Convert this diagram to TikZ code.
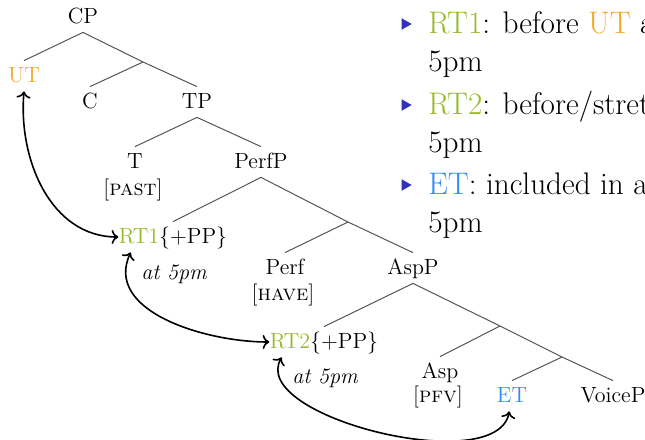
\documentclass[tikz,border=0pt]{standalone}
\usepackage{fontspec}
\usepackage{tikz}
\usetikzlibrary{shapes.geometric, arrows.meta}
\definecolor{utorange}{RGB}{245,168,38}
\definecolor{rtgreen}{RGB}{150,186,40}
\definecolor{etblue}{RGB}{48,140,250}
\definecolor{itemblue}{RGB}{50,50,185}
\definecolor{branchgray}{RGB}{85,85,85}
\tikzset{
  cat/.style={anchor=base, inner sep=0pt, text height=10.5pt, text depth=4.5pt,
    font=\fontsize{11}{13}\selectfont},
  feat/.style={anchor=base, inner sep=0pt, font=\fontsize{11}{13}\selectfont},
  adv/.style={anchor=base, inner sep=0pt, font=\fontsize{11}{13}\selectfont\itshape},
  branch/.style={draw=branchgray, line width=0.5pt},
  link/.style={<->, >={Computer Modern Rightarrow}, line width=0.8pt, color=black},
  bullet/.style={isosceles triangle, isosceles triangle apex angle=60,
    fill=itemblue, inner sep=0pt, minimum height=5pt},
  item/.style={anchor=base west, inner sep=0pt, font=\fontsize{15.6}{19}\selectfont}
}

\begin{document}
\begin{tikzpicture}[x=0.5pt, y=-0.5pt]
  \useasboundingbox (0,0) rectangle (645,440);
  \clip (0,0) rectangle (645,440);

  % Tree nodes
  \node[cat] (cp) at (83,23) {CP};
  \node[cat] (ut) at (24,82) {\textcolor{utorange}{UT}};
  \coordinate (cbar) at (143,62);
  \node[cat] (c) at (90,108) {C};
  \node[cat] (tp) at (197,108) {TP};
  \node[cat] (t) at (135,168) {T};
  \node[feat] (past) at (133,195) {[\textsc{past}]};
  \node[cat] (perfp) at (261,168) {PerfP};
  \node[cat] (rt1) at (173,243) {\textcolor{rtgreen}{RT1}\{+PP\}};
  \node[adv] (at1) at (174,279) {at 5pm};
  \coordinate (perfbar) at (348,222);
  \node[cat] (perf) at (285,274) {Perf};
  \node[feat] (have) at (283,300) {[\textsc{have}]};
  \node[cat] (aspp) at (413,274) {AspP};
  \node[cat] (rt2) at (324,348) {\textcolor{rtgreen}{RT2}\{+PP\}};
  \node[adv] (at2) at (325,383) {at 5pm};
  \coordinate (aspbar) at (500,326);
  \node[cat] (asp) at (440,378) {Asp};
  \node[feat] (pfv) at (438,402) {[\textsc{pfv}]};
  \coordinate (etbar) at (562,357);
  \node[cat] (et) at (512,402) {\textcolor{etblue}{ET}};
  \node[cat] (voicep) at (613,402) {VoiceP};

  % Branches
  \draw[branch] (ut.north) -- (cp.south) -- (cbar) -- (tp.north);
  \draw[branch] (c.north) -- (cbar);
  \draw[branch] (t.north) -- (tp.south) -- (perfp.north);
  \draw[branch] (rt1.north) -- (perfp.south) -- (perfbar) -- (aspp.north);
  \draw[branch] (perf.north) -- (perfbar);
  \draw[branch] (rt2.north) -- (aspp.south) -- (aspbar) -- (etbar) -- (voicep.north);
  \draw[branch] (asp.north) -- (aspbar);
  \draw[branch] (et.north) -- (etbar);

  % Links between times
  \draw[link] (ut.south) to[out=-95, in=180] (rt1.west);
  \draw[link] (rt1.-160) to[out=-115, in=180] (rt2.west);
  \draw[link] (rt2.-160) to[out=-120, in=-100, looseness=0.75] (et.-100);

  % Item list
  \node[bullet] (b1) at (405,24) {};
  \node[item] (i1) at (428,33) {\textcolor{rtgreen}{RT1}: before \textcolor{utorange}{UT} a};
  \node[item] (i1b) at (428,71) {5pm};
  \node[bullet] (b2) at (405,105) {};
  \node[item] (i2) at (428,114) {\textcolor{rtgreen}{RT2}: before/stret};
  \node[item] (i2b) at (428,152) {5pm};
  \node[bullet] (b3) at (405,185) {};
  \node[item] (i3) at (428,194) {\textcolor{etblue}{ET}: included in a};
  \node[item] (i3b) at (428,232) {5pm};
\end{tikzpicture}
\end{document}
